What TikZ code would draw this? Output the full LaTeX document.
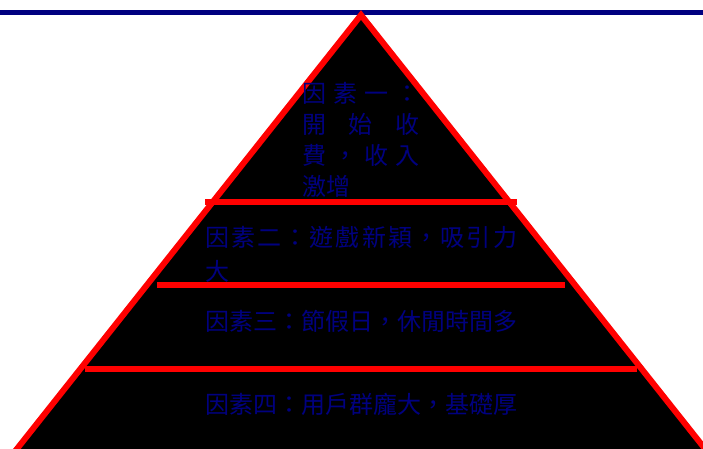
\documentclass[tikz,border=0pt]{standalone}
\usepackage{fontspec}
\newfontfamily\cjk{Noto Sans CJK TC}
\definecolor{navy}{RGB}{0,0,128}
\definecolor{pred}{RGB}{255,0,0}
\tikzset{
  redline/.style={draw=pred, line width=6pt, line cap=butt},
  lbl/.style={anchor=base west, inner sep=0pt, outer sep=0pt, text=navy, font=\cjk\fontsize{24pt}{30pt}\selectfont}
}
\begin{document}
\begin{tikzpicture}[x=1pt,y=-1pt]
\useasboundingbox (0,0) rectangle (703,448);
\clip (0,0) rectangle (703,448);
\coordinate (tl) at (0,12.5);
\coordinate (tr) at (703,12.5);
\draw[draw=navy, line width=5pt] (tl) -- (tr);
\coordinate (apex) at (361,15);
\coordinate (bl) at (0.2,470);
\coordinate (br) at (721.8,470);
\filldraw[fill=black, draw=pred, line width=6pt, line join=miter] (apex) -- (br) -- (bl) -- cycle;
\coordinate (a1) at (205,201.5);
\coordinate (b1) at (517,201.5);
\coordinate (a2) at (157,285);
\coordinate (b2) at (565,285);
\coordinate (a3) at (85,369);
\coordinate (b3) at (637,369);
\draw[redline] (a1) -- (b1);
\draw[redline] (a2) -- (b2);
\draw[redline] (a3) -- (b3);
\node[lbl] (t1a) at (302,102) {\makebox[118pt][s]{因\hfill 素\hfill 一\hfill ：}};
\node[lbl] (t1b) at (302,133) {\makebox[118pt][s]{開\hfill 始\hfill 收}};
\node[lbl] (t1c) at (302,164) {\makebox[118pt][s]{費\hfill ，\hfill 收\hfill 入}};
\node[lbl] (t1d) at (302,195) {激增};
\node[lbl] (t2a) at (205,246.5) {\makebox[312pt][s]{因\hfill 素\hfill 二\hfill ：\hfill 遊\hfill 戲\hfill 新\hfill 穎\hfill ，\hfill 吸\hfill 引\hfill 力}};
\node[lbl] (t2b) at (205,280) {大};
\node[lbl] (t3) at (205,330) {因素三：節假日，休閒時間多};
\node[lbl] (t4) at (205,413) {因素四：用戶群龐大，基礎厚};
\end{tikzpicture}
\end{document}
